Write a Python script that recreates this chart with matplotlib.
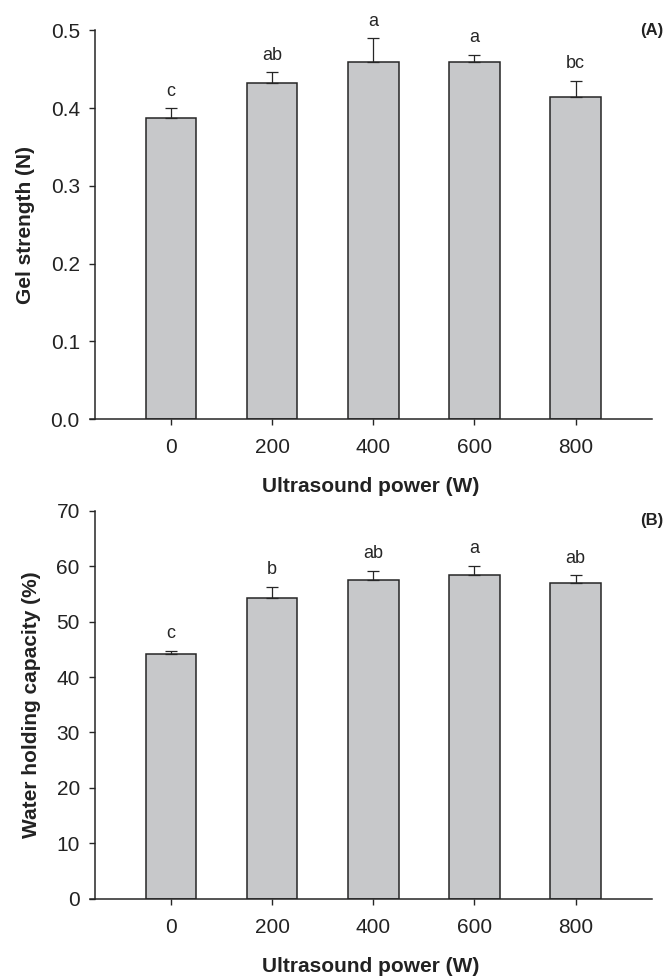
import matplotlib
matplotlib.use("Agg")
import matplotlib.pyplot as plt
import numpy as np

plt.rcParams['font.family'] = ['Liberation Sans', 'DejaVu Sans']

# Data
power = [0, 200, 400, 600, 800]
power_labels = ['0', '200', '400', '600', '800']

gel_strength = [0.387, 0.433, 0.460, 0.459, 0.415]
gel_err = [0.013, 0.013, 0.030, 0.010, 0.020]
gel_letters = ['c', 'ab', 'a', 'a', 'bc']

whc = [44.2, 54.2, 57.6, 58.5, 56.9]
whc_err = [0.55, 2.1, 1.55, 1.57, 1.5]
whc_letters = ['c', 'b', 'ab', 'a', 'ab']

bar_color = '#c7c8ca'
ink = '#262626'


def draw_panel(ax, values, errors, letters, ylim, yticks, yfmt, ylabel, tag, tag_y):
    x = np.array(power)
    ax.bar(x, values, width=100, color=bar_color, edgecolor=ink, linewidth=1.1, zorder=2)
    ax.errorbar(x, values, yerr=[np.zeros(len(errors)), errors], fmt='none',
                ecolor=ink, elinewidth=0.9, capsize=4, capthick=0.9, zorder=3)
    for xi, v, e, lab in zip(x, values, errors, letters):
        ax.annotate(lab, (xi, v + e), xytext=(0, 9), textcoords='offset points',
                    ha='center', va='baseline', fontsize=13, color=ink)

    ax.set_xlim(-161, 950)
    ax.set_ylim(*ylim)
    ax.spines['left'].set_position(('data', -150))
    for s in ['top', 'right']:
        ax.spines[s].set_visible(False)
    for s in ['left', 'bottom']:
        ax.spines[s].set_color(ink)
        ax.spines[s].set_linewidth(1.1)

    ax.set_xticks(power)
    ax.set_xticklabels(power_labels)
    ax.set_yticks(yticks)
    ax.set_yticklabels([yfmt.format(t) for t in yticks])
    ax.tick_params(axis='both', direction='out', length=4, width=1.0, color=ink,
                   labelsize=15, labelcolor='#222222')
    ax.tick_params(axis='x', pad=10)
    ax.tick_params(axis='y', pad=7)

    ax.set_xlabel('Ultrasound power (W)', fontsize=15, fontweight='bold', color='#222222', labelpad=14)
    ax.set_ylabel(ylabel, fontsize=15, fontweight='bold', color='#222222', labelpad=11)
    ax.figure.text(0.995, tag_y, tag, ha='right', va='center', fontsize=12,
                   fontweight='bold', color='#222222')


fig = plt.figure(figsize=(6.67, 9.77), dpi=100)
ax1 = fig.add_axes([0.1342, 0.5711, 0.8426, 0.3977])
ax2 = fig.add_axes([0.1342, 0.0801, 0.8426, 0.3971])

draw_panel(ax1, gel_strength, gel_err, gel_letters, (0, 0.5),
           [0.0, 0.1, 0.2, 0.3, 0.4, 0.5], '{:.1f}', 'Gel strength (N)', '(A)', 1 - 31 / 977)
draw_panel(ax2, whc, whc_err, whc_letters, (0, 70),
           [0, 10, 20, 30, 40, 50, 60, 70], '{:d}', 'Water holding capacity (%)', '(B)', 1 - 520 / 977)

fig.savefig('out.png', dpi=100, facecolor='white')
